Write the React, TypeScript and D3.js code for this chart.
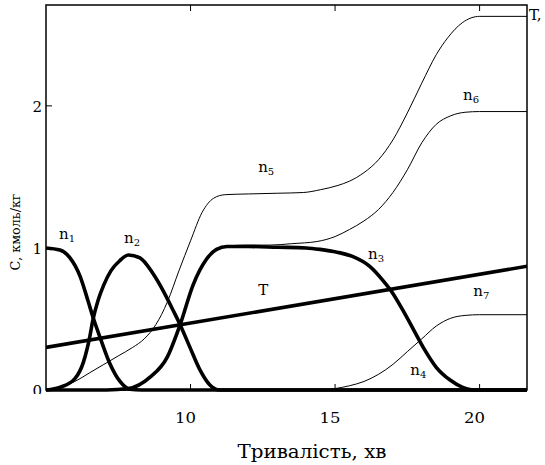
import React from "react";
import * as d3 from "d3";

// time, min  /  concentration, kmol/kg
const n1 = [[5, 1.0], [5.48, 0.985], [5.83, 0.93], [6.18, 0.8], [6.45, 0.63], [6.63, 0.51], [6.87, 0.37], [7.2, 0.19], [7.56, 0.06], [7.9, 0.005], [8.3, 0], [21.7, 0]];
const n2 = [[5, 0], [5.5, 0.02], [6, 0.08], [6.3, 0.2], [6.5, 0.36], [6.63, 0.5], [6.8, 0.63], [7, 0.74], [7.25, 0.84], [7.55, 0.91], [7.85, 0.95], [8.25, 0.93], [8.7, 0.82], [9.05, 0.7], [9.4, 0.56], [9.64, 0.46], [9.98, 0.3], [10.33, 0.14], [10.67, 0.035], [11.0, 0], [21.7, 0]];
const n3 = [[5, 0], [7.1, 0], [7.85, 0.01], [8.6, 0.09], [9.19, 0.23], [9.64, 0.46], [10.09, 0.74], [10.55, 0.92], [10.9, 0.99], [11.26, 1.01], [12, 1.01], [13, 1.005], [14, 1.0], [14.48, 0.99], [15.07, 0.97], [15.6, 0.94], [16.2, 0.87], [16.66, 0.77], [17, 0.68], [17.35, 0.56], [17.7, 0.43], [18.05, 0.3], [18.5, 0.16], [18.98, 0.07], [19.4, 0.02], [19.8, 0], [21.7, 0]];
const n5 = [[5, 0], [5.5, 0.02], [6, 0.06], [6.5, 0.12], [7, 0.18], [7.5, 0.24], [8, 0.3], [8.4, 0.36], [8.8, 0.46], [9.2, 0.62], [9.6, 0.84], [10, 1.05], [10.4, 1.25], [10.8, 1.35], [11.2, 1.375], [12, 1.38], [13, 1.385], [13.9, 1.39], [14.5, 1.41], [15.1, 1.44], [15.5, 1.47], [16, 1.53], [16.5, 1.62], [17, 1.76], [17.5, 1.95], [18, 2.16], [18.5, 2.36], [18.9, 2.48], [19.4, 2.585], [20, 2.63], [21.7, 2.63]];
const n6 = [[5, 0], [7.1, 0], [7.85, 0.01], [8.6, 0.09], [9.19, 0.23], [9.64, 0.46], [10.09, 0.74], [10.55, 0.92], [10.9, 0.99], [11.3, 1.015], [12, 1.02], [12.75, 1.02], [13.5, 1.03], [14.37, 1.045], [15, 1.08], [15.5, 1.13], [16, 1.19], [16.5, 1.27], [17, 1.39], [17.5, 1.55], [18, 1.74], [18.5, 1.87], [19, 1.93], [19.5, 1.955], [20, 1.96], [21.7, 1.96]];
const n7 = [[5, 0], [14.6, 0], [15, 0.01], [15.5, 0.03], [16, 0.06], [16.5, 0.11], [17, 0.18], [17.5, 0.27], [18, 0.36], [18.5, 0.45], [19, 0.505], [19.5, 0.525], [20, 0.53], [21.7, 0.53]];
const tLine = [[5, 0.3], [21.7, 0.873]];

const thickSeries = [n1, n2, n3, tLine];
const thinSeries = [n5, n6, n7];

const xTicks = [10, 15, 20];
const yTicks = [0, 1, 2];

// curve labels: [name, subscript, x, y]
const curveLabels = [
  ["n", "1", 5.45, 1.06],
  ["n", "2", 7.7, 1.035],
  ["n", "5", 12.34, 1.535],
  ["n", "6", 19.43, 2.04],
  ["n", "3", 16.14, 0.92],
  ["T", "", 12.34, 0.67],
  ["n", "7", 19.78, 0.66],
  ["n", "4", 17.6, 0.105],
];

const W = 545, H = 465;
const left = 46, right = 527, top = 5, bottom = 390;
const font = "'DejaVu Serif', serif";

export default function App() {
  const x = d3.scaleLinear().domain([5, 21.64]).range([left, right]);
  const y = d3.scaleLinear().domain([0, 2.71]).range([bottom, top]);

  const line = d3
    .line<number[]>()
    .x((d) => x(d[0]))
    .y((d) => y(d[1]))
    .curve(d3.curveMonotoneX);

  return (
    <svg width={W} height={H} style={{ position: "absolute", left: 0, top: 0, background: "#fff" }}>
      <defs>
        <clipPath id="plot">
          <rect x={left} y={top} width={right - left} height={bottom - top + 2} />
        </clipPath>
        <clipPath id="zeroClip">
          <rect x={0} y={0} width={left} height={bottom + 4} />
        </clipPath>
      </defs>

      <g clipPath="url(#plot)" fill="none" stroke="#000" strokeLinejoin="round">
        {thinSeries.map((s, i) => (
          <path key={"thin" + i} d={line(s as any) || ""} strokeWidth={1} />
        ))}
        {thickSeries.map((s, i) => (
          <path key={"thick" + i} d={line(s as any) || ""} strokeWidth={3.6} />
        ))}
      </g>

      {/* frame */}
      <rect x={left} y={top} width={right - left} height={bottom - top} fill="none" stroke="#000" strokeWidth={1.5} />

      {/* ticks, pointing inward */}
      {xTicks.map((t) => (
        <g key={"xt" + t}>
          <line x1={x(t)} x2={x(t)} y1={bottom} y2={bottom - 6} stroke="#000" strokeWidth={1} />
          <line x1={x(t)} x2={x(t)} y1={top} y2={top + 6} stroke="#000" strokeWidth={1} />
          <text x={x(t) - 5} y={423} textAnchor="middle" fontFamily={font} fontSize={15} textLength={21} lengthAdjust="spacingAndGlyphs">
            {t}
          </text>
        </g>
      ))}
      {yTicks.map((t) => (
        <g key={"yt" + t}>
          <line x1={left} x2={left + 6} y1={y(t)} y2={y(t)} stroke="#000" strokeWidth={1} />
          <text
            x={left - 4}
            y={y(t) + 6}
            textAnchor="end"
            fontFamily={font}
            fontSize={15}
            clipPath={t === 0 ? "url(#zeroClip)" : undefined}
          >
            {t}
          </text>
        </g>
      ))}

      {/* curve labels */}
      {curveLabels.map(([name, sub, lx, ly], i) => (
        <text key={"lab" + i} x={x(lx as number)} y={y(ly as number)} fontFamily={font} fontSize={15}>
          {name}
          {sub ? (
            <tspan fontSize={10} dy={3}>
              {sub}
            </tspan>
          ) : null}
        </text>
      ))}

      <text x={529} y={20} fontFamily={font} fontSize={15}>
        T,
      </text>

      <text x={312} y={458} textAnchor="middle" fontFamily={font} fontSize={18} textLength={149} lengthAdjust="spacingAndGlyphs">
        Тривалість, хв
      </text>
      <text
        transform={`translate(20, 232) rotate(-90)`}
        textAnchor="middle"
        fontFamily={font}
        fontSize={13.5}
        textLength={77}
        lengthAdjust="spacingAndGlyphs"
      >
        С, кмоль/кг
      </text>
    </svg>
  );
}
